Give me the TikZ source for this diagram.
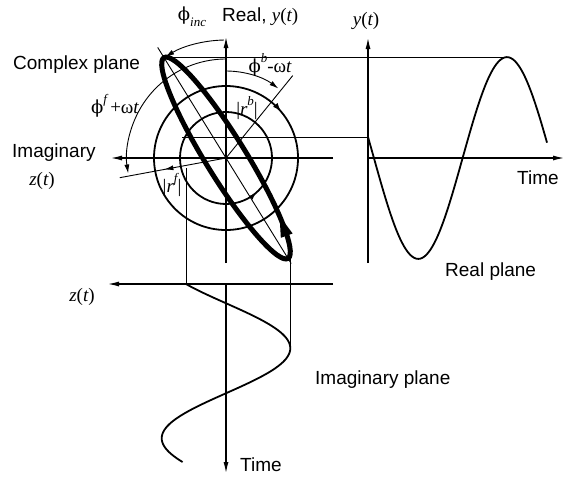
\documentclass[tikz,border=0pt]{standalone}
\usepackage{fontspec}
\setmainfont{Liberation Sans}
\newfontfamily\serif{Liberation Serif}
\newfontfamily\phifont{DejaVu Serif}
\usetikzlibrary{arrows.meta,calc,decorations.markings}
\newcommand{\myit}[1]{{\serif\itshape #1}}
\newcommand{\myup}[1]{{\serif #1}}
\newcommand{\myphi}{{\phifont\fontsize{18}{22}\selectfont ϕ}}
\newcommand{\mysub}[1]{\raisebox{-0.3em}{\fontsize{13}{13}\selectfont #1}}
\newcommand{\mysup}[1]{\raisebox{0.5em}{\fontsize{13}{13}\selectfont #1}}
\begin{document}
\begin{tikzpicture}[x=1pt,y=1pt,
  lbl/.style={inner sep=0pt, font=\fontsize{19}{22}\selectfont},
  axis/.style={line width=1.6pt, -{Latex[length=12pt,width=5pt]}},
  thinline/.style={line width=0.9pt},
  circ/.style={line width=1.8pt},
  curve/.style={line width=1.8pt},
  ell/.style={line width=5pt},
  arcarrow/.style={thinline, -{Latex[length=9pt,width=5pt]}},
  fwdmark/.style={postaction={decorate,decoration={markings,mark=at position #1 with {\arrow{Latex[length=9pt,width=5pt]}}}}},
  backmark/.style={postaction={decorate,decoration={markings,mark=at position #1 with {\arrowreversed{Latex[length=9pt,width=6pt]}}}}}
]
\useasboundingbox (0,0) rectangle (572,-477);

% ---------- complex plane ----------
\coordinate (O) at (226,-158);
\coordinate (vbot) at (226,-263);
\coordinate (vtop) at (226,-36);
\coordinate (hright) at (333,-158);
\coordinate (hleft) at (110,-158);
\draw[axis] (vbot) -- (vtop);
\draw[axis] (hright) -- (hleft);

\draw[circ, backmark=0.111] (O) circle[radius=72pt];
\draw[circ, fwdmark=0.869] (O) circle[radius=46pt];

% rotating vectors
\coordinate (rf) at ($(O)+(190.5:108pt)$);
\coordinate (rb) at ($(O)+(51:106pt)$);
\draw[thinline, fwdmark=0.58] (O) -- (rf);
\draw[thinline] (O) -- (rb);

% major axis line
\coordinate (ma1) at ($(O)+(121.7:130pt)$);
\coordinate (ma2) at ($(O)+(-58.3:124pt)$);
\draw[thinline] (ma1) -- (ma2);

% angle arcs
\coordinate (incs) at ($(O)+(91:118pt)$);
\draw[arcarrow] (incs) arc[start angle=91, end angle=121, radius=118pt];
\coordinate (bs) at ($(O)+(90:87pt)$);
\draw[arcarrow] (bs) arc[start angle=90, end angle=53, radius=87pt];
\coordinate (fs) at ($(O)+(90:99pt)$);
\draw[arcarrow] (fs) arc[start angle=90, end angle=189, radius=99pt];

% ellipse
\begin{scope}[shift={(O)}, rotate=121.7]
  \draw[ell] (0,0) ellipse[x radius=118pt, y radius=20pt];
  \coordinate (etop) at ({118*cos(-6)},{20*sin(-6)});
  \coordinate (eright) at ({118*cos(195.3)},{20*sin(195.3)});
  \coordinate (ea1) at ({118*cos(210)},{20*sin(210)});
  \coordinate (ea2) at ({118*cos(229)},{20*sin(229)});
  \draw[line width=2pt, -{Triangle[length=21pt,width=12pt]}] (ea1) -- (ea2);
\end{scope}

% ---------- projection lines ----------
\coordinate (rpeak) at (507,-57);
\draw[thinline] (etop) -- (etop -| rpeak);
\coordinate (P0) at (182,-137);
\coordinate (rs) at (368,-137);
\draw[thinline] (P0) -- (rs);
\coordinate (vl1) at (186,-168);
\coordinate (is) at (186,-284);
\draw[thinline] (vl1) -- (is);
\coordinate (imax) at (290.3,-348.25);
\draw[thinline] (eright) -- (eright |- imax);

% ---------- real plane ----------
\coordinate (ry0) at (368,-263);
\coordinate (ry1) at (368,-37);
\draw[axis] (ry0) -- (ry1);
\coordinate (rt0) at (368,-158);
\coordinate (rt1) at (565,-158);
\draw[axis] (rt0) -- (rt1);
\draw[curve] plot[domain=368:547, samples=90, smooth] (\x, {-158 + 100.9*cos(78 + (\x-368)*2.0293)});

% ---------- imaginary plane ----------
\coordinate (iz0) at (333,-284);
\coordinate (iz1) at (107,-284);
\draw[axis] (iz0) -- (iz1);
\coordinate (it0) at (226,-284);
\coordinate (it1) at (226,-474);
\draw[axis] (it0) -- (it1);
\draw[curve] plot[domain=284:462, samples=90, smooth] ({226 + 64.3*cos(231.5 + 2*(\x-284))}, -\x);

% ---------- labels ----------
\node[lbl, anchor=base west] (lcp) at (13,-69) {Complex plane};
\node[lbl, anchor=base west] (lreal) at (222,-21) {Real, \myit{y}\myup{(}\myit{t}\myup{)}};
\node[lbl] (linc) at (192,-17) {\myphi\mysub{\myit{inc}}};
\node[lbl] (lb) at (270,-65) {\myphi\mysup{\myit{b}}\myup{-ω}\myit{t}};
\node[lbl] (lf) at (115,-106) {\myphi\mysup{\myit{f}}\myup{\,+ω}\myit{t}};
\node[lbl, anchor=base west] (limag) at (12,-157) {Imaginary};
\node[lbl] (lz1) at (42,-181) {\myit{z}\myup{(}\myit{t}\myup{)}};
\node[lbl] (lrb) at (247,-108) {\myup{|}\myit{r}\mysup{\myit{b}}\myup{|}};
\node[lbl] (lrf) at (172,-185) {\myup{|}\myit{r}\mysup{\myit{f}}\myup{|}};
\node[lbl] (ly) at (366,-21) {\myit{y}\myup{(}\myit{t}\myup{)}};
\node[lbl, anchor=base west] (ltime1) at (517,-184) {Time};
\node[lbl, anchor=base west] (lrp) at (445,-276) {Real plane};
\node[lbl] (lz2) at (82,-297) {\myit{z}\myup{(}\myit{t}\myup{)}};
\node[lbl, anchor=base west] (lip) at (315,-384) {Imaginary plane};
\node[lbl, anchor=base west] (ltime2) at (240,-471) {Time};
\end{tikzpicture}
\end{document}
